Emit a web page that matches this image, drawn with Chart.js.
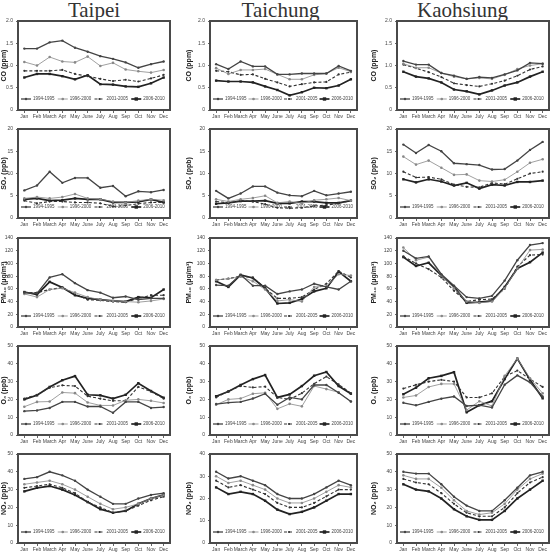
<!DOCTYPE html>
<html>
<head>
<meta charset="utf-8">
<script src="https://cdn.jsdelivr.net/npm/chart.js@4.4.1/dist/chart.umd.min.js"></script>
<style>
  html, body { margin: 0; padding: 0; background: #fff; }
  #wrap { position: relative; width: 553px; height: 556px; overflow: hidden; }
  .city { position: absolute; top: 0; font-family: "Liberation Serif", "DejaVu Serif", serif; font-size: 21px; color: #333; text-align: center; line-height: 21px; }
  .panel { position: absolute; }
</style>
</head>
<body>
<div id="wrap">
  <div class="city" style="left:0px;width:188px;">Taipei</div>
  <div class="city" style="left:188px;width:185px;">Taichung</div>
  <div class="city" style="left:370px;width:185px;">Kaohsiung</div>
</div>
<script>
const months = ['Jan', 'Feb', 'March', 'Apr', 'May', 'June', 'July', 'Aug', 'Sep', 'Oct', 'Nov', 'Dec'];
const periods = ['1994-1995', '1996-2000', '2001-2005', '2006-2010'];
const cities = ['Taipei', 'Taichung', 'Kaohsiung'];

// CO (ppm), one row per period
const coTaipei = [
  [1.38, 1.38, 1.52, 1.56, 1.40, 1.31, 1.21, 1.15, 1.07, 0.95, 1.03, 1.09],
  [1.08, 1.00, 1.19, 1.09, 1.07, 1.20, 0.99, 1.06, 0.91, 0.87, 0.84, 0.90],
  [0.88, 0.88, 0.88, 0.90, 0.81, 0.76, 0.70, 0.65, 0.68, 0.64, 0.71, 0.79],
  [0.73, 0.81, 0.81, 0.76, 0.69, 0.78, 0.58, 0.57, 0.53, 0.52, 0.60, 0.73]
];
const coTaichung = [
  [1.03, 0.92, 1.09, 0.98, 0.98, 0.80, 0.80, 0.82, 0.82, 0.82, 0.99, 0.88],
  [0.94, 0.81, 0.90, 0.90, 0.92, 0.80, 0.69, 0.69, 0.79, 0.82, 0.95, 0.86],
  [0.88, 0.86, 0.79, 0.80, 0.70, 0.62, 0.53, 0.58, 0.62, 0.63, 0.80, 0.85],
  [0.66, 0.64, 0.64, 0.62, 0.53, 0.45, 0.33, 0.40, 0.50, 0.49, 0.55, 0.69]
];
const coKaohsiung = [
  [1.10, 1.02, 1.02, 0.83, 0.77, 0.70, 0.74, 0.72, 0.80, 0.89, 1.06, 1.04],
  [1.04, 0.95, 0.95, 0.83, 0.75, 0.70, 0.72, 0.70, 0.79, 0.92, 1.00, 1.04],
  [1.02, 0.94, 0.85, 0.74, 0.60, 0.56, 0.53, 0.59, 0.66, 0.77, 0.91, 0.98],
  [0.86, 0.75, 0.71, 0.62, 0.46, 0.42, 0.35, 0.44, 0.55, 0.62, 0.75, 0.86]
];

// SO2 (ppb)
const so2Taipei = [
  [6.2, 7.3, 10.4, 7.9, 9.0, 9.0, 6.8, 7.2, 4.9, 6.0, 5.8, 6.3],
  [4.4, 4.7, 4.4, 4.7, 5.4, 4.4, 4.2, 3.7, 3.5, 3.9, 4.2, 4.0],
  [3.9, 3.3, 3.7, 3.7, 3.5, 3.5, 3.3, 2.6, 2.8, 3.2, 3.5, 3.5],
  [4.2, 4.4, 3.9, 4.0, 4.4, 4.2, 4.2, 3.5, 3.5, 3.6, 4.2, 3.5]
];
const so2Taichung = [
  [6.1, 4.4, 5.5, 7.1, 7.1, 5.7, 5.1, 4.9, 6.1, 5.1, 5.5, 5.9],
  [4.2, 3.7, 4.2, 4.5, 5.0, 3.4, 3.7, 3.3, 4.0, 4.2, 4.5, 3.9],
  [3.7, 3.4, 3.9, 3.7, 3.1, 2.3, 2.2, 2.3, 2.7, 2.9, 3.3, 3.9],
  [3.2, 3.4, 3.8, 3.8, 3.9, 3.3, 3.3, 3.7, 3.7, 3.4, 3.4, 3.9]
];
const so2Kaohsiung = [
  [16.5, 14.6, 16.4, 15.0, 12.3, 12.1, 11.9, 10.9, 11.0, 12.9, 15.3, 17.1],
  [13.8, 12.0, 12.9, 11.3, 9.7, 9.8, 8.4, 8.2, 8.6, 10.4, 12.4, 13.2],
  [10.4, 9.1, 9.2, 8.7, 7.5, 7.0, 6.9, 7.9, 7.6, 8.8, 10.0, 10.4],
  [8.7, 8.0, 8.7, 8.2, 7.3, 7.9, 6.6, 7.5, 7.3, 8.1, 8.1, 8.4]
];

// PM10 (ug/m3)
const pmTaipei = [
  [54, 53, 78, 83, 69, 58, 54, 46, 48, 43, 45, 45],
  [52, 47, 59, 61, 54, 47, 43, 41, 40, 39, 41, 44],
  [54, 54, 59, 62, 52, 43, 42, 40, 39, 45, 50, 50],
  [55, 51, 71, 62, 50, 45, 43, 41, 40, 47, 46, 59]
];
const pmTaichung = [
  [66, 65, 82, 65, 65, 52, 56, 59, 68, 63, 59, 72],
  [74, 76, 79, 72, 59, 41, 43, 40, 63, 64, 83, 81],
  [74, 76, 80, 78, 61, 45, 45, 47, 59, 68, 88, 78],
  [72, 63, 82, 77, 61, 37, 38, 44, 56, 61, 87, 72]
];
const pmKaohsiung = [
  [120, 108, 111, 83, 65, 47, 45, 49, 73, 105, 129, 132],
  [125, 105, 110, 81, 61, 40, 38, 40, 61, 92, 121, 122],
  [111, 100, 91, 78, 57, 40, 43, 44, 60, 95, 113, 114],
  [110, 96, 101, 81, 63, 38, 39, 41, 63, 92, 102, 117]
];

// O3 (ppb)
const o3Taipei = [
  [13.4, 13.8, 15.2, 18.6, 18.6, 16.0, 16.0, 12.5, 18.6, 18.6, 15.2, 15.7],
  [15.9, 18.6, 18.8, 23.9, 23.5, 18.3, 16.6, 16.6, 19.5, 20.0, 19.2, 18.0],
  [20.5, 22.6, 26.6, 27.9, 27.5, 21.8, 20.4, 19.2, 19.2, 27.0, 24.4, 20.4],
  [20.0, 22.3, 27.0, 30.8, 33.1, 22.6, 22.3, 20.5, 22.6, 29.1, 24.7, 20.9]
];
const o3Taichung = [
  [17.4, 18.2, 18.6, 20.5, 23.2, 17.0, 21.1, 20.0, 28.1, 28.1, 23.7, 18.8],
  [17.0, 20.0, 20.5, 23.2, 23.7, 14.7, 17.5, 16.1, 27.5, 25.8, 24.0, 18.8],
  [21.1, 24.6, 27.5, 26.7, 27.2, 21.1, 20.0, 23.5, 28.8, 32.8, 28.4, 23.5],
  [21.8, 24.4, 28.1, 31.4, 33.7, 21.1, 22.8, 27.5, 33.3, 35.4, 27.5, 23.2]
];
const o3Kaohsiung = [
  [18.1, 16.7, 18.6, 20.4, 21.6, 16.3, 16.8, 15.4, 28.2, 33.5, 29.6, 21.6],
  [21.1, 22.2, 27.0, 28.7, 28.7, 14.0, 19.0, 16.3, 33.2, 42.9, 31.9, 23.4],
  [26.1, 28.2, 30.0, 31.0, 30.0, 21.1, 21.1, 23.4, 32.8, 36.2, 31.4, 27.0],
  [22.9, 26.6, 31.9, 33.2, 35.3, 12.8, 16.7, 19.0, 31.4, 42.9, 31.0, 20.6]
];

// NO2 (ppb)
const no2Taipei = [
  [36, 37, 40, 38, 35, 30, 26, 22, 22, 25, 27, 28],
  [33, 34, 35, 33, 30, 26, 22, 19, 20, 22, 25, 27],
  [31, 32, 33, 31, 28, 23, 20, 17, 18, 21, 24, 26],
  [29, 31, 32, 30, 27, 23, 19, 17, 18, 22, 25, 27]
];
const no2Taichung = [
  [32, 29, 30, 28, 26, 22, 20, 20, 22, 25, 28, 26],
  [30, 27, 28, 26, 24, 20, 18, 18, 20, 23, 26, 25],
  [28, 25, 26, 24, 22, 18, 16, 16, 18, 21, 24, 24],
  [25, 22, 23, 22, 19, 15, 13, 14, 16, 19, 22, 22]
];
const no2Kaohsiung = [
  [40, 39, 39, 33, 26, 21, 18, 18, 24, 31, 38, 40],
  [38, 36, 36, 31, 24, 18, 16, 17, 22, 30, 36, 39],
  [36, 34, 33, 28, 22, 17, 15, 15, 20, 28, 34, 37],
  [33, 30, 29, 25, 19, 15, 13, 13, 18, 25, 30, 35]
];

const rows = [
  { label: 'CO (ppm)', max: 2, step: 0.5, data: [coTaipei, coTaichung, coKaohsiung] },
  { label: 'SO₂ (ppb)', max: 20, step: 5, data: [so2Taipei, so2Taichung, so2Kaohsiung] },
  { label: 'PM₁₀ (μg/m³)', max: 140, step: 20, data: [pmTaipei, pmTaichung, pmKaohsiung] },
  { label: 'O₃ (ppb)', max: 50, step: 10, data: [o3Taipei, o3Taichung, o3Kaohsiung] },
  { label: 'NO₂ (ppb)', max: [50, 40, 50], step: 10, data: [no2Taipei, no2Taichung, no2Kaohsiung] }
];

// period line styles
const styles = [
  { color: '#444', width: 1.3, dash: [], point: 'circle', r: 1.2 },
  { color: '#888', width: 0.8, dash: [], point: 'circle', r: 1.3 },
  { color: '#333', width: 1.1, dash: [3, 2], point: 'circle', r: 1.1 },
  { color: '#222', width: 1.7, dash: [], point: 'rect', r: 1.7 }
];

// column geometry
const cols = [
  { left: 0, width: 174, axisW: 18 },
  { left: 185, width: 176, axisW: 25 },
  { left: 370, width: 183, axisW: 27 }
];

const boxPlugin = {
  id: 'box',
  afterDatasetsDraw(chart) {
    const a = chart.chartArea;
    const ctx = chart.ctx;
    ctx.save();
    ctx.strokeStyle = '#4a4a4a';
    ctx.lineWidth = 2;
    ctx.strokeRect(a.left, a.top, a.right - a.left, a.bottom - a.top);

    // legend inside bottom of plot
    const slot = (a.right - a.left - 5) / 4;
    const y = a.bottom - 11;
    ctx.font = '4.5px Arial, "Liberation Sans", sans-serif';
    ctx.textBaseline = 'middle';
    chart.data.datasets.forEach((ds, k) => {
      const st = styles[k];
      const x0 = a.left + 3 + slot * k;
      ctx.strokeStyle = st.color;
      ctx.lineWidth = st.width;
      ctx.setLineDash(st.dash);
      ctx.beginPath();
      ctx.moveTo(x0, y);
      ctx.lineTo(x0 + 10, y);
      ctx.stroke();
      ctx.setLineDash([]);
      ctx.fillStyle = st.color;
      if (st.point === 'rect') {
        ctx.fillRect(x0 + 5 - st.r, y - st.r, st.r * 2, st.r * 2);
      } else {
        ctx.beginPath();
        ctx.arc(x0 + 5, y, st.r, 0, Math.PI * 2);
        ctx.fill();
      }
      ctx.fillStyle = '#444';
      ctx.fillText(ds.label, x0 + 12, y);
    });
    ctx.restore();
  }
};

const wrap = document.getElementById('wrap');

rows.forEach((row, r) => {
  cols.forEach((col, c) => {
    const div = document.createElement('div');
    div.className = 'panel';
    const top = Math.round(14 + 108.3 * r);
    div.style.left = col.left + 'px';
    div.style.top = top + 'px';
    div.style.width = col.width + 'px';
    div.style.height = '106px';
    const canvas = document.createElement('canvas');
    div.appendChild(canvas);
    wrap.appendChild(div);

    const yMax = Array.isArray(row.max) ? row.max[c] : row.max;
    const series = row.data[c];

    new Chart(canvas, {
      type: 'line',
      data: {
        labels: months,
        datasets: series.map((vals, k) => ({
          label: periods[k],
          data: vals,
          borderColor: styles[k].color,
          backgroundColor: styles[k].color,
          borderWidth: styles[k].width,
          borderDash: styles[k].dash,
          pointStyle: styles[k].point,
          pointRadius: styles[k].r,
          pointBorderWidth: 0,
          tension: 0
        }))
      },
      options: {
        responsive: true,
        maintainAspectRatio: false,
        animation: false,
        events: [],
        layout: { padding: { top: 7, right: 1, left: 0, bottom: 0 } },
        plugins: { legend: { display: false }, tooltip: { enabled: false } },
        scales: {
          x: {
            offset: true,
            grid: { display: true, drawOnChartArea: false, tickLength: 3, color: '#666' },
            border: { display: false },
            ticks: { font: { size: 5, family: 'Arial' }, color: '#444', padding: 1, maxRotation: 0, autoSkip: false },
            afterFit(scale) { scale.height = 10; }
          },
          y: {
            min: 0,
            max: yMax,
            grid: { display: true, drawOnChartArea: false, tickLength: 2, color: '#666' },
            border: { display: false },
            ticks: { stepSize: row.step, font: { size: 5, family: 'Arial' }, color: '#444', padding: 3 },
            title: { display: true, text: row.label, font: { size: 7, weight: 'bold', family: 'Arial' }, color: '#222', padding: 0 },
            afterFit(scale) { scale.width = col.axisW; }
          }
        }
      },
      plugins: [boxPlugin]
    });
  });
});
</script>
</body>
</html>
